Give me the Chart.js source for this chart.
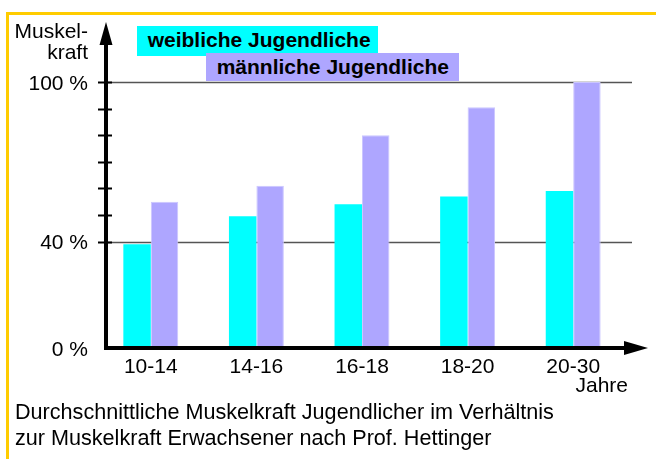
<!DOCTYPE html>
<html>
<head>
<meta charset="utf-8">
<script src="https://cdn.jsdelivr.net/npm/chart.js@4.4.1/dist/chart.umd.min.js"></script>
<style>
  html, body { margin: 0; padding: 0; background: #fff; }
  body { width: 656px; height: 459px; position: relative; overflow: hidden;
         font-family: "Liberation Sans", Arial, sans-serif; color: #000; }
  #frame { position: absolute; left: 6px; top: 12px; width: 700px; height: 500px;
           border-top: 3px solid #FFCC00; border-left: 3px solid #FFCC00; }
  canvas { position: absolute; left: 0; top: 0; }
  .txt { position: absolute; font-size: 21px; white-space: nowrap; }
  .key { position: absolute; font-size: 21px; font-weight: bold; height: 30px;
         line-height: 28px; box-sizing: border-box; padding-left: 11px; white-space: nowrap; }
</style>
</head>
<body>
<div id="frame"></div>
<canvas id="c" width="656" height="459"></canvas>
<div class="txt" style="left:0;top:19.5px;width:88px;text-align:right;line-height:21px;">Muskel-<br>kraft</div>
<div class="txt" style="left:528px;top:375px;width:100px;text-align:right;line-height:20px;">Jahre</div>
<div class="txt" style="left:15px;top:399px;line-height:26px;font-size:21.6px;">Durchschnittliche Muskelkraft Jugendlicher im Verhältnis<br>zur Muskelkraft Erwachsener nach Prof. Hettinger</div>
<div id="keys"></div>
<script>
// values (percent of adult muscle strength)
var ageGroups = ['10-14', '14-16', '16-18', '18-20', '20-30'];
var femaleValues = [39, 49.5, 54, 57, 59];
var maleValues = [55, 61, 80, 90.5, 100];
var seriesNames = ['weibliche Jugendliche', 'männliche Jugendliche'];
var seriesColors = ['#00FFFF', '#AEA6FF'];
var yTickValues = [40, 50, 60, 70, 80, 90, 100];
var yLabelValues = [0, 40, 100];
var yLabelText = ['0 %', '40 %', '100 %'];
var gridValues = [40, 100];

var FONT = '"Liberation Sans", Arial, sans-serif';
var AXIS_X = 106;

// legend boxes, placed like the original
var keyPos = [
  { left: 136.7, top: 26, width: 241.6 },
  { left: 205.7, top: 53.3, width: 253.6 },
];
var keys = document.getElementById('keys');
seriesNames.forEach(function (name, i) {
  var d = document.createElement('div');
  d.className = 'key';
  d.style.left = keyPos[i].left + 'px';
  d.style.top = keyPos[i].top + 'px';
  d.style.width = keyPos[i].width + 'px';
  d.style.height = (i === 1 ? 28 : 30) + 'px';
  d.style.background = seriesColors[i];
  d.textContent = name;
  keys.appendChild(d);
});

var axesPlugin = {
  id: 'axesPlugin',
  beforeDatasetsDraw: function (chart) {
    var ctx = chart.ctx, y = chart.scales.y;
    ctx.save();
    ctx.strokeStyle = '#555';
    ctx.lineWidth = 1.5;
    gridValues.forEach(function (v) {
      var py = Math.round(y.getPixelForValue(v)) + 0.5;
      ctx.beginPath(); ctx.moveTo(AXIS_X, py); ctx.lineTo(632, py); ctx.stroke();
    });
    ctx.restore();
  },
  afterDatasetsDraw: function (chart) {
    var ctx = chart.ctx, y = chart.scales.y, x = chart.scales.x;
    var base = y.getPixelForValue(0);
    ctx.save();
    ctx.fillStyle = '#000';
    ctx.strokeStyle = '#000';
    // y axis with arrow
    ctx.lineWidth = 4;
    ctx.beginPath(); ctx.moveTo(AXIS_X, base + 2); ctx.lineTo(AXIS_X, 40); ctx.stroke();
    ctx.beginPath(); ctx.moveTo(AXIS_X, 22); ctx.lineTo(AXIS_X - 6.5, 45); ctx.lineTo(AXIS_X + 6.5, 45); ctx.closePath(); ctx.fill();
    // x axis with arrow
    ctx.beginPath(); ctx.moveTo(AXIS_X - 2, base); ctx.lineTo(630, base); ctx.stroke();
    ctx.beginPath(); ctx.moveTo(648, base); ctx.lineTo(624, base - 7); ctx.lineTo(624, base + 7); ctx.closePath(); ctx.fill();
    // y tick marks
    ctx.lineWidth = 2;
    yTickValues.forEach(function (v) {
      var py = Math.round(y.getPixelForValue(v)) + 0.5;
      ctx.beginPath(); ctx.moveTo(AXIS_X - 8, py); ctx.lineTo(AXIS_X + 6, py); ctx.stroke();
    });
    // tick labels
    ctx.font = '21px ' + FONT;
    ctx.textAlign = 'right';
    ctx.textBaseline = 'middle';
    yLabelValues.forEach(function (v, i) {
      ctx.fillText(yLabelText[i], 88, y.getPixelForValue(v) + 2);
    });
    ctx.textAlign = 'center';
    ctx.textBaseline = 'alphabetic';
    ageGroups.forEach(function (g, i) {
      ctx.fillText(g, x.getPixelForValue(i), 373);
    });
    ctx.restore();
  },
};

new Chart(document.getElementById('c'), {
  type: 'bar',
  data: {
    labels: ageGroups,
    datasets: [
      { label: seriesNames[0], data: femaleValues, backgroundColor: seriesColors[0], borderWidth: 0 },
      { label: seriesNames[1], data: maleValues, backgroundColor: seriesColors[1], borderColor: '#CBC6FF', borderWidth: 1 },
    ],
  },
  options: {
    responsive: false,
    animation: false,
    events: [],
    layout: { padding: { left: 98, right: 30, top: 23.5, bottom: 111 } },
    datasets: { bar: { categoryPercentage: 0.52, barPercentage: 1 } },
    plugins: { legend: { display: false }, tooltip: { enabled: false } },
    scales: {
      x: { display: false, offset: true },
      y: { display: false, min: 0, max: 122 },
    },
  },
  plugins: [axesPlugin],
});
</script>
</body>
</html>
